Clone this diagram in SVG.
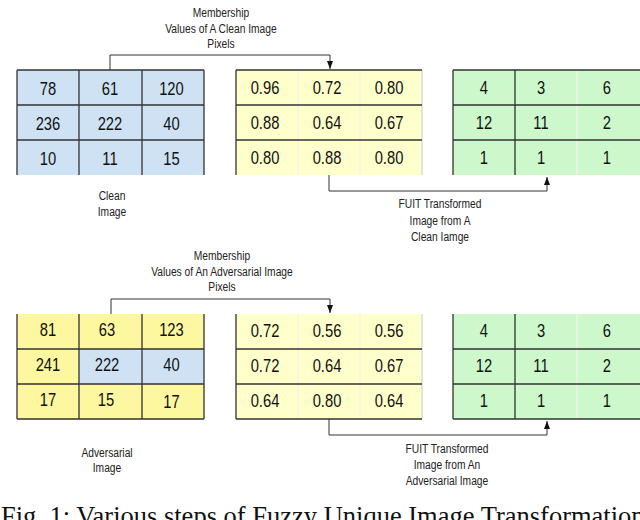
<svg xmlns="http://www.w3.org/2000/svg" width="640" height="520" viewBox="0 0 640 520">
<style>
.cell{font-family:"Liberation Sans",Arial,sans-serif;font-size:18px;text-anchor:middle;fill:#111}
.lbl{font-family:"Liberation Sans",Arial,sans-serif;font-size:12.5px;text-anchor:middle;fill:#222}
.bd{stroke:#333;stroke-width:1.3;fill:none}
.ft{stroke:#f3f3e6;stroke-width:1.3;fill:none}
.edge{stroke:#c8c8c0;stroke-width:1;fill:none}
.conn{fill:none;stroke:#333;stroke-width:1}
.cap{font-family:"Liberation Serif","Times New Roman",serif;font-size:26.5px;fill:#111}
</style>
<defs>
<marker id="arr" markerUnits="userSpaceOnUse" markerWidth="9" markerHeight="6" refX="8" refY="3" orient="auto">
<path d="M0,0 L8,3 L0,6 z" fill="#111"/>
</marker>
</defs>

<g id="connectors">
<path class="conn" d="M110,70 V55 H330 V69" marker-end="url(#arr)"/>
<path class="conn" d="M329,175 V191 H547 V177" marker-end="url(#arr)"/>
<path class="conn" d="M111,314 V299 H330 V313" marker-end="url(#arr)"/>
<path class="conn" d="M329,419 V435 H547 V421" marker-end="url(#arr)"/>
</g>

<g id="label-membership-clean" transform="scale(0.82,1)">
<text class="lbl" x="269.5" y="17.5">Membership</text>
<text class="lbl" x="269.5" y="33.5">Values of A Clean Image</text>
<text class="lbl" x="269.5" y="48.5">Pixels</text>
</g>

<g id="clean-image">
<rect x="17" y="70" width="187" height="105" fill="#cfe2f3"/>
<path class="bd" d="M17,70 H204 M17,70 V175 M204,70 V175 M79,70 V175 M142,70 V175 M17,105 H204 M17,140 H204"/>
<g transform="scale(0.82,1)">
<text class="cell" x="58.5" y="95">78</text>
<text class="cell" x="134.1" y="95">61</text>
<text class="cell" x="209.1" y="95">120</text>
<text class="cell" x="58.5" y="130">236</text>
<text class="cell" x="134.1" y="130">222</text>
<text class="cell" x="209.1" y="130">40</text>
<text class="cell" x="58.5" y="165">10</text>
<text class="cell" x="134.1" y="165">11</text>
<text class="cell" x="209.1" y="165">15</text>
</g>
</g>

<g id="membership-clean">
<rect x="236" y="70" width="186" height="105" fill="#ffffcc"/>
<path class="ft" d="M298,70 V175 M360,70 V175"/>
<path class="edge" d="M422,70 V175"/>
<path class="bd" d="M236,70 H422 M236,70 V175 M236,105 H422 M236,140 H422"/>
<g transform="scale(0.82,1)">
<text class="cell" x="323.2" y="94.5">0.96</text>
<text class="cell" x="398.8" y="94.5">0.72</text>
<text class="cell" x="474.4" y="94.5">0.80</text>
<text class="cell" x="323.2" y="129.5">0.88</text>
<text class="cell" x="398.8" y="129.5">0.64</text>
<text class="cell" x="474.4" y="129.5">0.67</text>
<text class="cell" x="323.2" y="164">0.80</text>
<text class="cell" x="398.8" y="164">0.88</text>
<text class="cell" x="474.4" y="164">0.80</text>
</g>
</g>

<g id="fuit-clean">
<rect x="453" y="70" width="187" height="105" fill="#ccf8cc"/>
<path class="ft" d="M577,70 V175"/>
<path class="bd" d="M453,70 H640 M453,70 V175 M515,70 V175 M453,105 H640 M453,140 H640"/>
<g transform="scale(0.82,1)">
<text class="cell" x="590.2" y="94.5">4</text>
<text class="cell" x="659.8" y="94.5">3</text>
<text class="cell" x="740.2" y="94.5">6</text>
<text class="cell" x="590.2" y="129.5">12</text>
<text class="cell" x="659.8" y="129.5">11</text>
<text class="cell" x="740.2" y="129.5">2</text>
<text class="cell" x="590.2" y="164">1</text>
<text class="cell" x="659.8" y="164">1</text>
<text class="cell" x="740.2" y="164">1</text>
</g>
</g>

<g id="label-clean-image" transform="scale(0.82,1)">
<text class="lbl" x="136.6" y="200.5">Clean</text>
<text class="lbl" x="136.6" y="216.5">Image</text>
</g>

<g id="label-fuit-clean" transform="scale(0.82,1)">
<text class="lbl" x="536.6" y="208.5">FUIT Transformed</text>
<text class="lbl" x="536.6" y="225">Image from A</text>
<text class="lbl" x="536.6" y="241">Clean Iamge</text>
</g>

<g id="label-membership-adv" transform="scale(0.82,1)">
<text class="lbl" x="270.7" y="260.5">Membership</text>
<text class="lbl" x="270.7" y="276">Values of An Adversarial Image</text>
<text class="lbl" x="270.7" y="291">Pixels</text>
</g>

<g id="adversarial-image">
<rect x="17" y="314" width="187" height="105" fill="#fdf7a0"/>
<rect x="79" y="349" width="125" height="35" fill="#cfe2f3"/>
<path class="bd" d="M17,419 H204 M17,314 V419 M204,314 V419 M79,314 V419 M142,314 V419 M17,349 H204 M17,384 H204"/>
<g transform="scale(0.82,1)">
<text class="cell" x="58.5" y="336.5">81</text>
<text class="cell" x="130.5" y="336.5">63</text>
<text class="cell" x="209.1" y="336.5">123</text>
<text class="cell" x="58.5" y="371.5">241</text>
<text class="cell" x="130.5" y="371.5">222</text>
<text class="cell" x="209.1" y="371.5">40</text>
<text class="cell" x="58.5" y="406.5">17</text>
<text class="cell" x="129.3" y="406.5">15</text>
<text class="cell" x="209.1" y="408">17</text>
</g>
</g>

<g id="membership-adv">
<rect x="236" y="314" width="186" height="105" fill="#ffffcc"/>
<path class="ft" d="M298,314 V419 M360,314 V419"/>
<path class="edge" d="M422,314 V419"/>
<path class="bd" d="M236,419 H422 M236,314 V419 M236,349 H422 M236,384 H422"/>
<g transform="scale(0.82,1)">
<text class="cell" x="323.2" y="337">0.72</text>
<text class="cell" x="398.8" y="337">0.56</text>
<text class="cell" x="474.4" y="337">0.56</text>
<text class="cell" x="323.2" y="372">0.72</text>
<text class="cell" x="398.8" y="372">0.64</text>
<text class="cell" x="474.4" y="372">0.67</text>
<text class="cell" x="323.2" y="407">0.64</text>
<text class="cell" x="398.8" y="407">0.80</text>
<text class="cell" x="474.4" y="407">0.64</text>
</g>
</g>

<g id="fuit-adv">
<rect x="453" y="314" width="187" height="105" fill="#ccf8cc"/>
<path class="ft" d="M577,314 V419"/>
<path class="bd" d="M453,419 H640 M453,314 V419 M515,314 V419 M453,349 H640 M453,384 H640"/>
<g transform="scale(0.82,1)">
<text class="cell" x="590.2" y="337">4</text>
<text class="cell" x="659.8" y="337">3</text>
<text class="cell" x="740.2" y="337">6</text>
<text class="cell" x="590.2" y="372">12</text>
<text class="cell" x="659.8" y="372">11</text>
<text class="cell" x="740.2" y="372">2</text>
<text class="cell" x="590.2" y="407">1</text>
<text class="cell" x="659.8" y="407">1</text>
<text class="cell" x="740.2" y="407">1</text>
</g>
</g>

<g id="label-adversarial-image" transform="scale(0.82,1)">
<text class="lbl" x="130.5" y="457.5">Adversarial</text>
<text class="lbl" x="130.5" y="472.5">Image</text>
</g>

<g id="label-fuit-adv" transform="scale(0.82,1)">
<text class="lbl" x="545.1" y="453.5">FUIT Transformed</text>
<text class="lbl" x="545.1" y="469.5">Image from An</text>
<text class="lbl" x="545.1" y="485.5">Adversarial Image</text>
</g>

<text class="cap" x="1" y="525">Fig. 1: Various steps of Fuzzy Unique Image Transformation</text>
</svg>
